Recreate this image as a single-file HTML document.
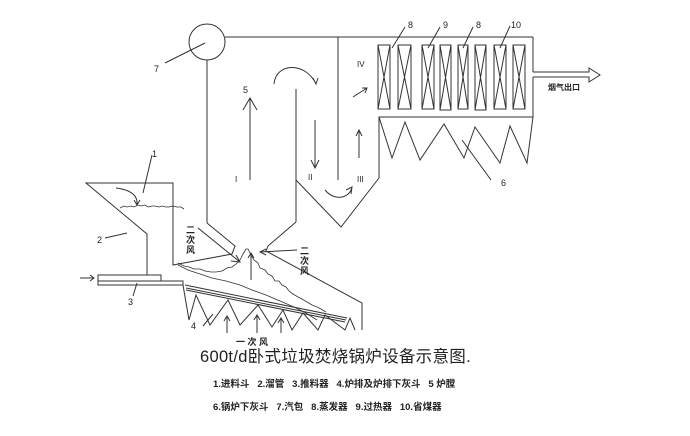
<!DOCTYPE html>
<html><head><meta charset="utf-8"><style>
html,body{margin:0;padding:0;background:#fff;}
svg{display:block;}
text{font-family:"Liberation Sans","Noto Sans CJK SC",sans-serif;fill:#222;white-space:pre;}
</style></head><body>
<svg width="690" height="436" viewBox="0 0 690 436" xmlns="http://www.w3.org/2000/svg">
<g fill="none" stroke="#333" stroke-width="1">
<circle cx="207" cy="42" r="18"/>
<line x1="165" y1="63" x2="205" y2="43"/>
<line x1="225" y1="37" x2="533" y2="37"/>
<line x1="207" y1="60" x2="207" y2="223"/>
<polyline points="207,223 235,246 232,254 173,265 173,183 86,183 147,234 147,275"/>
<line x1="296" y1="89" x2="296" y2="222"/>
<polyline points="296,222 268,246 266,251 362,303 362,330"/>
<line x1="338" y1="37" x2="338" y2="180"/>
<polyline points="296,180 341,227 379,178 379,117 533,117 533,77"/>
<line x1="533" y1="37" x2="533" y2="72"/>
<polyline points="533,72 589,72 589,68 600,75 589,82 589,77 533,77"/>
<polyline points="379,117 392,158 405,122 420,160 444,124 464,158 475,127 500,163 510,126 527,163 533,117"/>
<g>
<rect x="378" y="45" width="12" height="64"/><path d="M378,45 L390,109 M390,45 L378,109"/>
<rect x="398" y="45" width="13" height="64"/><path d="M398,45 L411,109 M411,45 L398,109"/>
<rect x="422" y="45" width="12" height="64"/><path d="M422,45 L434,109 M434,45 L422,109"/>
<rect x="440" y="45" width="11" height="65"/><path d="M440,45 L451,110 M451,45 L440,110"/>
<rect x="458" y="45" width="10" height="64"/><path d="M458,45 L468,109 M468,45 L458,109"/>
<rect x="475" y="45" width="11" height="65"/><path d="M475,45 L486,110 M486,45 L475,110"/>
<rect x="494" y="45" width="12" height="64"/><path d="M494,45 L506,109 M506,45 L494,109"/>
<rect x="513" y="45" width="12" height="64"/><path d="M513,45 L525,109 M525,45 L513,109"/>
</g>
<path d="M392,48 L405,27 M428,48 L440,27 M463,48 L473,27 M500,48 L510,26 M462,140 L491,180 M143,193 L152,155 M105,238 L127,233 M133,296 L137,283 M203,326 L213,314"/>
<path d="M250,180 L250,98 M243,110 L250,98 L257,110"/>
<path d="M315,120 L315,168 M311,160 L315,168 L319,160"/>
<path d="M359,158 L359,130 M356,136 L359,130 L362,136"/>
<path d="M353,97 L367,88 M362,88 L367,88 L365,93"/>
<path d="M274,84 C276,62 306,62 316,84 M313,78 L316,84 L318,78"/>
<path d="M325,190 C335,202 350,198 352,187 M346,190 L352,187 L351,194"/>
<path d="M116,188 C132,190 138,196 137,205 M134,200 L137,205 L140,200"/>
<path d="M80,278 L94,278 M90,275 L94,278 L90,281"/>
<rect x="98" y="275" width="63" height="6"/>
<rect x="98" y="281" width="85" height="4"/>
<path d="M185,285 L347,318 M186,288 L346,320 M186,290 L345,322"/>
<polyline points="183,285 189,320 196,295 210,325 228,300 240,325 258,305 272,327 283,310 292,330 303,313 318,330 325,315 345,330 350,318 355,330"/>
<path d="M227,333 L227,316 M224,321 L227,316 L230,321 M257,333 L257,315 M254,320 L257,315 L260,320 M281,333 L281,318 M278,323 L281,318 L284,323"/>
<path d="M198,228 L240,262 M231,261 L240,262 L236,255"/>
<path d="M297,250 L260,252 M266,249 L260,252 L266,255"/>
<path d="M251,280 L251,253 M248,258 L251,253 L254,258"/>
<path d="M120,208 l4,-2 3,1 4,-1 3,1 4,-2 3,1 4,-1 3,2 4,-1 3,0 4,1 3,-1 4,1 3,0 4,-1 4,1 4,0 3,2" stroke-width="0.8"/>
<path d="M178,263 l6,3 5,1 5,2 6,0 5,2 6,1 5,0 6,-1 5,-3 5,-1 4,-3 4,-4 3,-6 3,-5 2,0 3,6 3,5 4,3 2,5 5,2 3,4 4,2 3,5 4,0 3,4 4,2 3,4 4,3 5,3 4,2 5,3 5,3 5,2 4,2 5,3" stroke-width="0.8"/>
<path d="M178,265 l10,5 12,4 12,4 14,3 14,4 12,5 14,5 14,6 14,6 12,6 11,7" stroke-width="0.8"/>
</g>
<g font-size="9">
<text x="152" y="157">1</text>
<text x="97" y="243">2</text>
<text x="128" y="305">3</text>
<text x="191" y="329">4</text>
<text x="243" y="93">5</text>
<text x="501" y="186">6</text>
<text x="154" y="72">7</text>
<text x="408" y="28">8</text>
<text x="443" y="28">9</text>
<text x="476" y="28">8</text>
<text x="511" y="28">10</text>
<text x="235" y="182" font-family="Liberation Serif" font-size="8">I</text>
<text x="308" y="180" font-family="Liberation Serif" font-size="8">II</text>
<text x="357" y="182" font-family="Liberation Serif" font-size="8">III</text>
<text x="357" y="67" font-family="Liberation Serif" font-size="8">IV</text>
</g>
<g font-size="9" font-weight="bold">
<text x="186" y="233">二</text><text x="186" y="243">次</text><text x="186" y="253">风</text>
<text x="300" y="254">二</text><text x="300" y="264">次</text><text x="300" y="274">风</text>
<text x="236" y="345">一 次 风</text>
<text x="548" y="90" font-size="8">烟气出口</text>
</g>
<text x="200" y="362" font-size="16.5" fill="#666" letter-spacing="0.3">600t/d卧式垃圾焚烧锅炉设备示意图.</text>
<text x="213" y="387" font-size="9.5" font-weight="bold">1.进料斗   2.溜管   3.推料器   4.炉排及炉排下灰斗   5 炉膛</text>
<text x="213" y="410" font-size="9.5" font-weight="bold">6.锅炉下灰斗   7.汽包   8.蒸发器   9.过热器   10.省煤器</text>
</svg>
</body></html>
